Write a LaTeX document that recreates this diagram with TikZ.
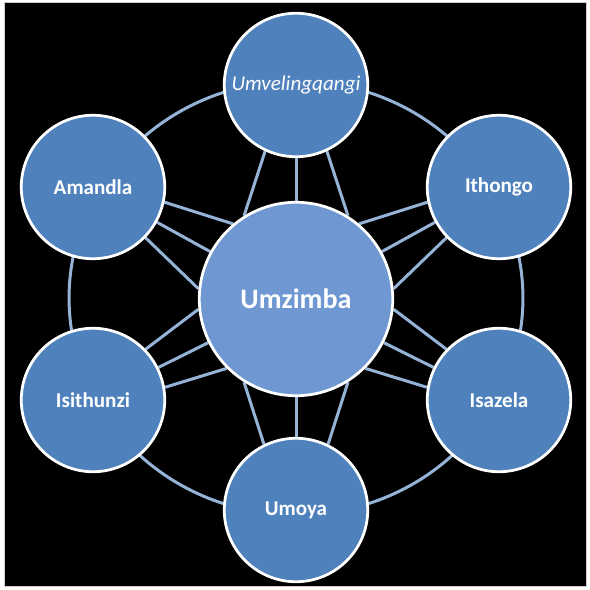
\documentclass[tikz,border=0pt]{standalone}
\usepackage{fontspec}
\setmainfont{Carlito}
\definecolor{outerblue}{RGB}{79,129,189}
\definecolor{coreblue}{RGB}{111,151,210}
\definecolor{linkblue}{RGB}{149,179,215}
\pgfdeclarelayer{back}
\pgfdeclarelayer{links}
\pgfsetlayers{back,links,main}

\begin{document}
\begin{tikzpicture}[
  x=0.02cm, y=-0.02cm,
  part/.style={circle, draw=white, line width=0.055cm, fill=outerblue, minimum size=2.87cm,
               inner sep=0pt, text=white, font=\fontsize{12}{14}\selectfont\bfseries},
  core/.style={circle, draw=white, line width=0.055cm, fill=coreblue, minimum size=3.87cm,
               inner sep=0pt, text=white, font=\fontsize{16}{19}\selectfont\bfseries},
  link/.style={draw=linkblue, line width=0.06cm}
]
  \useasboundingbox (0,0) rectangle (590,590);
  \begin{pgfonlayer}{back}
    \fill[white] (0,0) rectangle (590,590);
    \filldraw[fill=black, draw=gray!40, line width=0.02cm] (4,3) rectangle (586,586);
  \end{pgfonlayer}

  % Centre and outer parts
  \node[core] (umzimba) at (296,299) {Umzimba};
  \node[part, font=\fontsize{12}{14}\selectfont\itshape] (umvel) at (296,85) {Umvelingqangi};
  \node[part] (amandla) at (93,187) {Amandla};
  \node[part] (ithongo) at (499,187) {Ithongo};
  \node[part] (isithunzi) at (93,400) {Isithunzi};
  \node[part] (isazela) at (499,400) {Isazela};
  \node[part] (umoya) at (296,510) {Umoya};

  \begin{pgfonlayer}{links}
    % Ring through the outer parts
    \draw[link] (296,298) ellipse [x radius=4.54cm, y radius=4.34cm];

    % Spokes to the centre
    \draw[link] (umvel) -- (umzimba);
    \draw[link] (umvel.245) -- (umzimba.122);
    \draw[link] (umvel.295) -- (umzimba.58);

    \draw[link] (umoya) -- (umzimba);
    \draw[link] (umoya.116) -- (umzimba.238);
    \draw[link] (umoya.64) -- (umzimba.302);

    \draw[link] (amandla) -- (umzimba);
    \draw[link] (amandla.-12) -- (umzimba.130);
    \draw[link] (amandla.-44) -- (umzimba.174);

    \draw[link] (ithongo) -- (umzimba);
    \draw[link] (ithongo.192) -- (umzimba.50);
    \draw[link] (ithongo.224) -- (umzimba.6);

    \draw[link] (isithunzi) -- (umzimba);
    \draw[link] (isithunzi.10) -- (umzimba.225);
    \draw[link] (isithunzi.44) -- (umzimba.186);

    \draw[link] (isazela) -- (umzimba);
    \draw[link] (isazela.170) -- (umzimba.315);
    \draw[link] (isazela.136) -- (umzimba.354);
  \end{pgfonlayer}
\end{tikzpicture}
\end{document}
